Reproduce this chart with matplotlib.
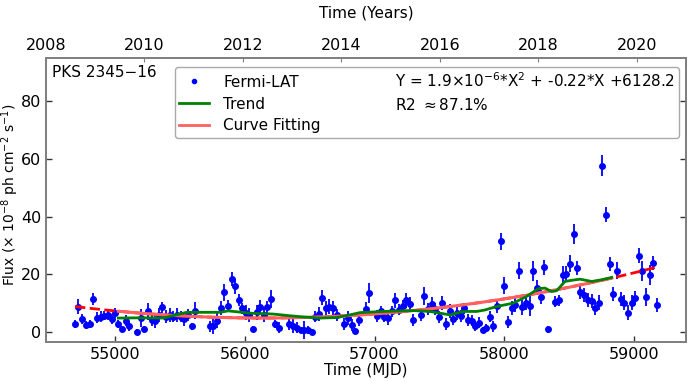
import numpy as np
import matplotlib
matplotlib.use("Agg")
import matplotlib.pyplot as plt
from matplotlib.lines import Line2D

source_name = "PKS 2345\u221216"

mjd = [54692, 54717, 54748, 54776, 54807, 54833, 54859, 54890, 54918, 54944,
       54975, 55000, 55025, 55056, 55085, 55110, 55167, 55198, 55224, 55252,
       55283, 55311, 55339, 55365, 55393, 55424, 55449, 55476, 55506, 55534,
       55565, 55591, 55617, 55732, 55758, 55784, 55815, 55840, 55869, 55899,
       55925, 55956, 55981, 56010, 56035, 56066, 56092, 56118, 56148, 56174,
       56202, 56233, 56262,
       56341, 56374, 56405, 56434, 56459, 56490, 56516, 56541, 56572, 56598,
       56624, 56652, 56683, 56709, 56765, 56794, 56825, 56850, 56881, 56935,
       56960, 57017, 57050, 57076, 57102, 57133, 57158, 57189, 57217, 57243,
       57274, 57299, 57356, 57384, 57410, 57441, 57466, 57497, 57523, 57551,
       57582, 57607, 57633, 57664, 57692, 57718, 57749, 57775, 57806, 57833,
       57862, 57888,
       57916, 57942, 57973, 57998, 58029, 58058, 58083, 58114, 58139, 58168,
       58198, 58224, 58255, 58281, 58309, 58337, 58394, 58420, 58451, 58476,
       58507, 58536, 58561, 58587, 58617, 58643, 58674, 58699, 58730, 58756,
       58785, 58815, 58840, 58871, 58897, 58925, 58951, 58982, 59008, 59039,
       59064, 59093, 59123, 59149, 59175]

flux = [2.8, 8.8, 4.5, 2.4, 2.8, 11.5, 5.0, 5.3, 5.6, 5.9,
        4.4, 6.5, 2.8, 1.0, 3.9, 1.9, 0.1, 4.8, 1.0, 7.1,
        4.2, 3.9, 5.9, 8.5, 5.3, 5.9, 5.3, 5.9, 5.3, 4.4,
        5.9, 1.9, 7.4, 1.9, 1.9, 3.9, 8.2, 13.7, 9.0, 18.3,
        15.8, 11.1, 8.2, 6.7, 5.9, 1.0, 6.8, 8.6, 5.9, 8.6,
        11.4, 2.8, 1.5,
        2.8, 2.2, 1.5, 0.5, 0.7, 0.7, 0.1, 5.3, 6.3, 11.9,
        8.2, 8.8, 8.2, 5.9, 2.8, 4.8, 2.4, 0.3, 4.2, 8.0,
        13.5, 5.6, 7.1, 5.3, 4.8, 7.1, 10.9, 7.7, 9.0, 10.9,
        9.7, 4.2, 5.9, 12.5, 7.9, 9.6, 7.9, 5.1, 10.0, 2.7,
        7.3, 4.4, 6.7, 5.6, 8.2, 4.2, 3.9, 1.9, 3.2, 0.7,
        1.4, 5.3,
        1.9, 9.0, 31.4, 16.1, 3.4, 8.2, 9.4, 21.2, 8.5, 10.2,
        9.0, 21.2, 15.4, 12.1, 22.4, 0.9, 10.5, 10.9, 19.8, 20.2,
        23.7, 34.1, 22.1, 13.8, 12.9, 11.1, 10.8, 8.2, 10.2, 57.7,
        40.7, 23.5, 13.2, 21.2, 11.4, 10.2, 6.7, 10.2, 11.7, 26.5,
        21.0, 12.1, 19.8, 23.9, 9.4]

flux_err = [1.5, 2.5, 1.8, 1.5, 1.5, 2.0, 1.8, 1.8, 1.6, 1.8,
            1.8, 1.8, 1.5, 1.0, 2.0, 1.5, 0.8, 3.0, 1.2, 2.8,
            2.0, 2.5, 2.5, 2.0, 2.2, 2.5, 2.0, 2.5, 2.0, 2.2,
            2.0, 1.2, 3.0, 2.0, 2.5, 2.5, 2.5, 3.0, 2.0, 2.5,
            2.5, 2.0, 2.0, 2.5, 2.5, 1.2, 2.5, 2.5, 2.5, 2.2,
            3.0, 1.5, 2.0,
            2.0, 2.5, 2.0, 1.0, 3.0, 1.5, 1.0, 2.0, 2.5, 2.5,
            2.5, 2.5, 2.5, 2.0, 2.0, 2.5, 2.0, 1.0, 2.0, 2.5,
            3.5, 2.0, 2.0, 2.0, 2.5, 2.0, 2.5, 2.0, 2.0, 2.5,
            2.5, 2.0, 2.0, 3.0, 2.0, 2.5, 2.0, 2.0, 2.5, 2.0,
            2.5, 2.0, 2.5, 2.0, 2.0, 2.0, 2.0, 1.5, 2.0, 1.0,
            1.5, 2.0,
            2.0, 2.5, 3.0, 3.0, 2.0, 2.5, 2.5, 3.0, 2.5, 2.5,
            3.5, 3.5, 2.5, 2.5, 2.5, 1.2, 2.0, 2.0, 3.0, 2.5,
            3.0, 3.5, 2.5, 2.5, 2.5, 2.5, 2.5, 2.5, 2.5, 3.5,
            2.5, 2.5, 2.5, 3.0, 2.5, 2.5, 2.5, 2.5, 2.5, 2.5,
            3.5, 3.0, 3.5, 2.5, 2.5]

trend_mjd = [55025, 55200, 55372, 55460, 55553, 55700, 55809, 55873, 56040,
             56218, 56349, 56450, 56580, 56709, 56800, 56888, 57068, 57299,
             57428, 57582, 57685, 57787, 57850, 57941, 58070, 58172, 58262,
             58314, 58365, 58404, 58468, 58519, 58584, 58674, 58751, 58828]
trend_flux = [4.8, 4.9, 4.8, 5.8, 6.8, 6.8, 6.8, 7.3, 6.5,
              6.2, 5.6, 5.2, 4.8, 5.0, 5.8, 6.7, 7.1, 7.4,
              7.1, 5.9, 7.1, 7.1, 7.6, 8.8, 10.0, 12.3, 15.0,
              15.2, 14.0, 14.3, 17.5, 17.9, 18.3, 17.5, 18.1, 18.9]

# quadratic fit: flux = A*t^2 + B*t + C, t = (MJD - FIT_X0)/1000
FIT_X0 = 57000.0
FIT_A = 1.9126
FIT_B = 3.305
FIT_C = 6.24

equation_text = "Y = 1.9\u00d710$^{-6}$*X$^{2}$ + -0.22*X +6128.2"
r2_text = "R2 $\\approx$87.1%"

year_ticks = [2008, 2010, 2012, 2014, 2016, 2018, 2020]

fig = plt.figure(figsize=(6.91, 3.82), dpi=100)
ax = fig.add_axes([0.0666, 0.1047, 0.9262, 0.7433])

ax.errorbar(mjd, flux, yerr=flux_err, fmt='o', color='blue', ms=4,
            elinewidth=1.3, capsize=0, zorder=3)

def fit_eval(x):
    t = (np.asarray(x, dtype=float) - FIT_X0) / 1000.0
    return FIT_A * t**2 + FIT_B * t + FIT_C

x_all = np.linspace(min(mjd), max(mjd), 300)
ax.plot(x_all, fit_eval(x_all), 'r--', lw=2, zorder=4)
x_tr = np.linspace(trend_mjd[0], trend_mjd[-1], 300)
ax.plot(x_tr, fit_eval(x_tr), color='#ff6060', lw=2.2, zorder=5)
ax.plot(trend_mjd, trend_flux, color='green', lw=2, zorder=6)

ax.set_xlim(54468, 59401)
ax.set_ylim(-3.5, 95)
ax.set_yticks([0, 20, 40, 60, 80])
ax.set_xticks([55000, 56000, 57000, 58000, 59000])
ax.set_xlabel("Time (MJD)", fontsize=11, labelpad=1)
ax.set_ylabel("Flux ($\\times$ 10$^{-8}$ ph cm$^{-2}$ s$^{-1}$)", fontsize=10)
ax.yaxis.set_label_coords(-0.039, 0.52)
ax.tick_params(axis='both', direction='in', labelsize=11.5, right=True,
               length=4, width=1, color='#333333')
for s in ax.spines.values():
    s.set_color('#808080')
    s.set_linewidth(1.4)

ax.text(0.01, 0.95, source_name, transform=ax.transAxes, fontsize=11,
        ha='left', va='center')

handles = [
    Line2D([], [], marker='o', ls='none', color='blue', ms=3),
    Line2D([], [], color='green', lw=2),
    Line2D([], [], color='#ff6060', lw=2),
    Line2D([], [], ls='none'),
    Line2D([], [], ls='none'),
    Line2D([], [], ls='none'),
]
labels = ["Fermi-LAT", "Trend", "Curve Fitting", equation_text, r2_text, " "]
leg = ax.legend(handles, labels, ncol=2, loc='upper right',
                bbox_to_anchor=(0.989, 0.968), borderaxespad=0, fontsize=11,
                columnspacing=2.0, labelspacing=0.45, borderpad=0.25,
                handletextpad=0.9, fancybox=True, framealpha=1)
leg.get_frame().set_edgecolor('#aaaaaa')

ax2 = ax.twiny()
ax2.set_xlim(2008, 2021)
ax2.set_xticks(year_ticks)
ax2.set_xlabel("Time (Years)", fontsize=11, labelpad=15)
ax2.tick_params(axis='x', direction='in', labelsize=11.5, length=3, color='#808080')
for s in ax2.spines.values():
    s.set_color('#808080')
    s.set_linewidth(1.4)

fig.savefig("out.png", dpi=100)
